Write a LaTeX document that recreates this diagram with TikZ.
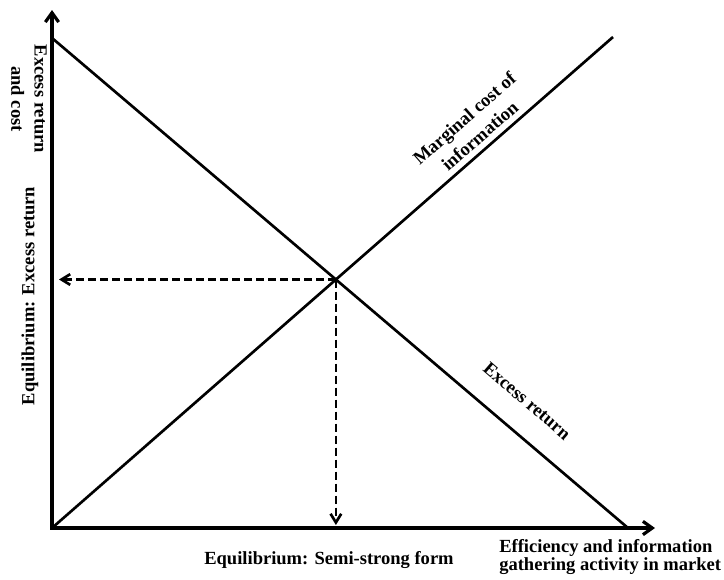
\documentclass[tikz,border=0pt]{standalone}
\usepackage{fontspec}
\setmainfont{Liberation Serif}
\usetikzlibrary{arrows.meta}
\begin{document}
\begin{tikzpicture}[x=0.75pt,y=-0.75pt,
  axis/.style={line width=2.4pt, {Straight Barb[length=7pt,width=10pt]}-{Straight Barb[length=7pt,width=10pt]}},
  curve/.style={line width=2pt},
  guide/.style={line width=2pt, dash pattern=on 6pt off 3pt, -{Straight Barb[length=6.5pt,width=8pt]}},
  lbl/.style={font=\fontsize{13.9}{17.5}\selectfont\bfseries, inner sep=0pt, align=center}]
\useasboundingbox (0,0) rectangle (724,579);
\coordinate (O) at (52,528);
\coordinate (Ytop) at (52,10);
\coordinate (Xend) at (655,528);
\coordinate (ERs) at (52,38);
\coordinate (ERe) at (628,528);
\coordinate (MCe) at (613,37);
\coordinate (E) at (335.9,279.5);
\coordinate (Yeq) at (59,279.5);
\coordinate (Xeq) at (335.9,525);
\draw[axis] (Ytop) -- (O) -- (Xend);
\draw[curve] (ERs) -- (ERe);
\draw[curve] (O) -- (MCe);
\draw[guide] (E) -- (Yeq);
\draw[guide] (E) -- (Xeq);
\node[lbl, rotate=-90] (ylab) at (29,99) {Excess return\\and cost};
\node[lbl, rotate=90] (yeqlab) at (30,296) {Equilibrium: Excess return};
\node[lbl, rotate=41.2] (mclab) at (472,127) {Marginal cost of\\information};
\node[lbl, rotate=-40.6] (erlab) at (527,401) {Excess return};
\node[lbl, anchor=base] (xeqlab) at (329,564) {Equilibrium: Semi-strong form};
\node[lbl, anchor=north west, align=left, font=\fontsize{13.9}{13.8}\selectfont\bfseries] (xlab) at (499,539) {Efficiency and information\\gathering activity in market};
\end{tikzpicture}
\end{document}
